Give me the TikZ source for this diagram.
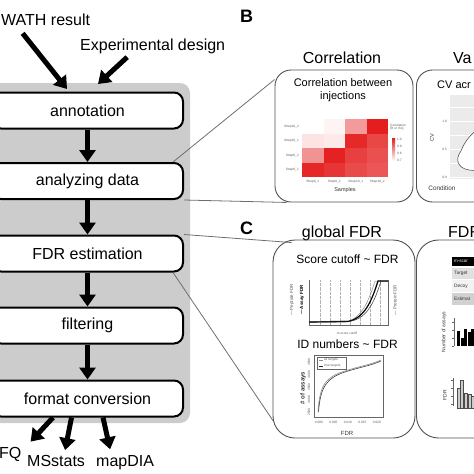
\documentclass[tikz,border=0pt]{standalone}
\usepackage{fontspec}
\setmainfont{Liberation Sans}
\usepackage{tikz}
\usetikzlibrary{arrows.meta}
\tikzstyle{canvas} = [x = 1pt, y = -1pt]
\definecolor{flowGray}{RGB}{204,204,204}
\definecolor{panelLine}{RGB}{80,80,80}
\definecolor{zoomGray}{RGB}{110,110,110}
\definecolor{heatRed}{HTML}{E41E1E}
\definecolor{plotGray}{RGB}{235,235,235}
\tikzstyle{stepBox} = [draw=black, line width=2pt, fill=white, rounded corners=9pt, minimum width=191pt, minimum height=36pt, inner sep=0pt, font=\fontsize{16}{18}\selectfont]
\tikzstyle{flowArrow} = [line width=5pt, -{Triangle[width=16pt,length=12pt]}]
\tikzstyle{bigText} = [inner sep=0pt, font=\fontsize{16}{18}\selectfont]
\tikzstyle{panelLetter} = [inner sep=0pt, font=\fontsize{18}{20}\selectfont\bfseries]
\tikzstyle{panelBox} = [draw=panelLine, line width=0.9pt, rounded corners=16pt, inner sep=0pt]
\tikzstyle{zoomLine} = [draw=zoomGray, line width=0.8pt]
\tikzstyle{plotTitle} = [inner sep=0pt, align=center, font=\fontsize{11}{13}\selectfont]
\tikzstyle{subTitle} = [inner sep=0pt, font=\fontsize{12}{14}\selectfont]
\tikzstyle{smallText} = [inner sep=0pt, text=black!80, font=\fontsize{5.5}{6}\selectfont]
\tikzstyle{tinyText} = [inner sep=0pt, text=black!65, font=\fontsize{3.2}{3.6}\selectfont]
\tikzstyle{axisLine} = [draw=black!60, line width=0.4pt]
\newcommand{\heatCell}[3]{\fill [heatRed!#3] (302 + #1 * 21.5, 119 + #2 * 14.5) rectangle + (21.5, 14.5);}
\newcommand{\countBar}[2]{\fill [black] (457 + #1 * 3.6, #2) rectangle (457 + #1 * 3.6 + 3, 346);}
\newcommand{\fdrBar}[2]{\filldraw [fill=black!20, draw=black!70, line width=0.4pt] (457 + #1 * 3.6, #2) rectangle (457 + #1 * 3.6 + 3, 408);}
\begin{document}
\begin{tikzpicture}[canvas]
    \useasboundingbox (0,0) rectangle (474,474);
    \clip (0,0) rectangle (474,474);
    \fill [flowGray, rounded corners=10pt] (-20,83) rectangle (190,423);
    \node [stepBox] (annotation) at (87.5,110.5) {annotation};
    \node [stepBox] (analyzing) at (87.5,181) {analyzing data};
    \node [stepBox] (fdrEstimation) at (87.5,253.5) {FDR estimation};
    \node [stepBox] (filtering) at (87.5,325.5) {filtering};
    \node [stepBox] (formatConversion) at (87.5,398.5) {format conversion};
    \foreach \from/\to in {annotation/analyzing, analyzing/fdrEstimation, fdrEstimation/filtering, filtering/formatConversion}
        \draw [flowArrow] (\from) -- (\to);
    \node [bigText, anchor=base west] (swath) at (1,25) {WATH result};
    \node [bigText, anchor=base west] (design) at (80,50) {Experimental design};
    \draw [flowArrow] ([shift={(-23pt,-8pt)}]swath.south) -- ([shift={(-20.5pt,2.5pt)}]annotation.north);
    \draw [flowArrow] ([shift={(-25.5pt,-3.6pt)}]design.south) -- ([shift={(10.5pt,7.5pt)}]annotation.north);
    \node [bigText, anchor=base west] (aLFQ) at (-1,458) {FQ};
    \node [bigText, anchor=base west] (msstats) at (27,466) {MSstats};
    \node [bigText, anchor=base west] (mapdia) at (96,466) {mapDIA};
    \draw [flowArrow] ([xshift=-34.5pt]formatConversion.south) -- ([shift={(9pt,5pt)}]aLFQ.north east);
    \draw [flowArrow] ([xshift=-16pt]formatConversion.south) -- ([shift={(9pt,4.5pt)}]msstats.north);
    \draw [flowArrow] ([xshift=15.5pt]formatConversion.south) -- ([shift={(-15pt,5.5pt)}]mapdia.north);
    \node [panelLetter, anchor=base west] (labelB) at (240,22) {B};
    \node [panelLetter, anchor=base west] (labelC) at (240,234) {C};
    \node [bigText, anchor=base] (corrTitle) at (342,63) {Correlation};
    \node [bigText, anchor=base west] (varTitle) at (453,63) {Va};
    \node [bigText, anchor=base] (globalTitle) at (342,237) {global FDR};
    \node [bigText, anchor=base west] (fdrTitle) at (448,237) {FDR};
    \node [panelBox, minimum width=138pt, minimum height=132pt] (corrPanel) at (344,136) {};
    \node [panelBox, minimum width=100pt, minimum height=132pt, anchor=west] (cvPanel) at (416,136) {};
    \node [panelBox, rounded corners=22pt, minimum width=142pt, minimum height=198pt] (globalPanel) at (344,339) {};
    \node [panelBox, rounded corners=22pt, minimum width=100pt, minimum height=198pt, anchor=west] (fdrPanel) at (416,339) {};
    \draw [zoomLine] ([xshift=-11pt]analyzing.north east) -- ([yshift=-10pt]corrPanel.north west);
    \draw [zoomLine] (analyzing.south east) -- ([xshift=12pt]corrPanel.south west);
    \draw [zoomLine] (fdrEstimation.north east) -- ([shift={(19pt,-3pt)}]globalPanel.north west);
    \draw [zoomLine] ([xshift=-11pt]fdrEstimation.south east) -- ([shift={(1pt,17pt)}]globalPanel.south west);
    \node [plotTitle] (corrHead) at (343,90) {Correlation between\\injections};
    \foreach \row/\shades in {0/{0,5,45,100}, 1/{12,10,95,82}, 2/{48,98,85,78}, 3/{96,90,80,75}} {
        \foreach \pct [count=\col from 0] in \shades {
            \heatCell{\col}{\row}{\pct}
        }
    }
    \foreach \rowName [count=\i from 0] in {Strep10\_2, Strep10\_1, Strep0\_2, Strep0\_1}
        \node [tinyText, anchor=east] (rowLabel\i) at (299, 126.25 + \i * 14.5) {\rowName};
    \foreach \colName [count=\i from 0] in {Strep0\_1, Strep0\_2, Strep10\_1, Strep10\_2}
        \node [tinyText] (colLabel\i) at (312.75 + \i * 21.5, 182) {\colName};
    \node [smallText] (samples) at (345,190) {Samples};
    \node [tinyText, anchor=west, align=left] (legendHead) at (390,127) {Correlation\\{[R or rho]}};
    \shade [top color=heatRed, bottom color=white] (392,138) rectangle (395,161);
    \foreach \tick [count=\i from 0] in {1.0, 0.9, 0.8, 0.7}
        \node [tinyText, anchor=west] (legendTick\i) at (397, 139.5 + \i * 7) {\tick};
    \node [plotTitle, anchor=base west] (cvHead) at (437,88) {CV acr};
    \fill [plotGray] (450,95) rectangle (480,179);
    \foreach \gy in {107,135,163}
        \draw [white, line width=0.3pt] (450,\gy) -- (480,\gy);
    \foreach \gy in {121,149,177}
        \draw [white, line width=0.7pt] (450,\gy) -- (480,\gy);
    \filldraw [fill=white, draw=black!75, line width=0.5pt] (480,128) .. controls (470,134) and (464,143) .. (461,151) .. controls (455,159) and (457,168) .. (469,170) -- (480,171);
    \foreach \tick/\gy in {1.0/121, 0.5/149, 0.0/177}
        \node [tinyText, anchor=east] (cvTick\gy) at (447,\gy) {\tick};
    \node [smallText, rotate=90] (cvAxis) at (432,138) {CV};
    \node [smallText, font=\fontsize{6.4}{7}\selectfont] (condition) at (442,188) {Condition};
    \node [subTitle, anchor=base] (scoreHead) at (347.5,263) {Score cutoff \textasciitilde{} FDR};
    \foreach \gx in {320,330,...,380}
        \draw [black!30, densely dotted, line width=0.3pt] (\gx,280) -- (\gx,325);
    \draw [axisLine] (309,280) -- (309,325) -- (388,325) -- (388,280);
    \draw [black!45, line width=0.5pt] (309,322.5) -- (345,322) .. controls (362,319) and (369,300) .. (375,281) -- (388,281);
    \draw [black, line width=1.2pt] (309,322) -- (348,321.5) .. controls (365,318) and (372,300) .. (378,281) -- (388,281);
    \draw [black!80, line width=0.5pt] (309,321.5) -- (351,321) .. controls (368,318) and (375,300) .. (381,281) -- (388,281);
    \node [tinyText, rotate=90, font=\fontsize{4.5}{5}\selectfont] (peptideKey) at (292,300) {--- Peptide FDR};
    \node [tinyText, rotate=90, text=black, font=\fontsize{4.5}{5}\selectfont\bfseries] (assayKey) at (302,300) {--- Assay FDR};
    \node [tinyText, rotate=90, font=\fontsize{4.5}{5}\selectfont] (proteinKey) at (395,300) {--- Protein FDR};
    \node [tinyText] (scoreAxis) at (347,333) {m-score cutoff};
    \node [subTitle, anchor=base] (idHead) at (347.5,348) {ID numbers \textasciitilde{} FDR};
    \draw [axisLine] (314,355) rectangle (383,417);
    \draw [axisLine, line width=0.3pt] (317,357) rectangle (346,369);
    \draw [black!45, line width=0.4pt] (319,360) -- (323,360);
    \draw [black!85, line width=0.4pt] (319,366) -- (323,366);
    \node [tinyText, anchor=west] (allKey) at (324,360) {all targets};
    \node [tinyText, anchor=west] (trueKey) at (324,366) {true targets};
    \draw [black!45, line width=0.6pt] (318,411) .. controls (320,384) and (326,377) .. (345,371) .. controls (360,366) and (370,365) .. (381,360);
    \draw [black!85, line width=0.5pt] (318.5,412) .. controls (320.5,386) and (327,378) .. (345,372) .. controls (360,367) and (370,366) .. (381,361);
    \foreach \tick [count=\i from 0] in {4500, 4000, 3500, 3000, 2500}
        \node [tinyText, rotate=90] (idTick\i) at (309, 362 + \i * 12.5) {\tick};
    \foreach \tick [count=\i from 0] in {0.000, 0.005, 0.010, 0.015, 0.020}
        \node [tinyText] (fdrTick\i) at (319 + \i * 14.5, 422) {\tick};
    \node [smallText, rotate=90, font=\fontsize{6}{7}\selectfont\bfseries] (assayAxis) at (303,388) {\# of assays};
    \node [smallText, font=\fontsize{6}{7}\selectfont] (fdrAxis) at (347,433) {FDR};
    \fill [black] (452,257) rectangle (480,266);
    \node [tinyText, anchor=west, text=white, font=\fontsize{4.5}{5}\selectfont] (mscoreHead) at (454,261.5) {m-scor};
    \fill [black!12] (452,268) rectangle (480,279);
    \fill [black!5] (452,280) rectangle (480,292);
    \fill [black!18] (452,293) rectangle (480,305);
    \foreach \rowName/\gy in {Target/273.5, Decoy/286, Estimat/299}
        \node [tinyText, anchor=west, text=black!80, font=\fontsize{4.8}{5}\selectfont] (table\rowName) at (454,\gy) {\rowName};
    \node [smallText, rotate=90, font=\fontsize{5}{6}\selectfont] (countAxis) at (444,332) {Number of assays};
    \draw [axisLine] (454,318) -- (454,346);
    \foreach \gy in {322,330,338,346}
        \draw [axisLine] (452,\gy) -- (454,\gy);
    \foreach \barTop [count=\i from 0] in {331,338,329,332,329} {
        \countBar{\i}{\barTop}
    }
    \node [smallText, rotate=90, font=\fontsize{5}{6}\selectfont] (fdrBarAxis) at (445,395) {FDR};
    \draw [axisLine] (453,378) -- (453,406);
    \foreach \gy in {380,388,396,404}
        \draw [axisLine] (451,\gy) -- (453,\gy);
    \foreach \barTop [count=\i from 0] in {388,380,393,394,396} {
        \fdrBar{\i}{\barTop}
    }
\end{tikzpicture}
\end{document}
